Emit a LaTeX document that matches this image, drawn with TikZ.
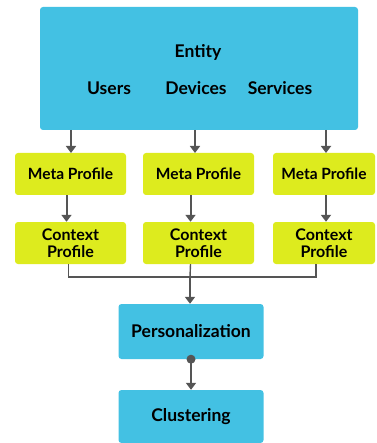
\documentclass[tikz,border=0pt]{standalone}
\usepackage{fontspec}
\setmainfont{Lato}
\usetikzlibrary{arrows.meta}
\definecolor{entityblue}{RGB}{67,193,227}
\definecolor{profilelime}{RGB}{221,235,30}
\definecolor{linegray}{RGB}{85,85,85}
\begin{document}
\begin{tikzpicture}[x=1pt,y=-1pt,
  bluebox/.style={fill=entityblue, rounded corners=3pt, inner sep=0pt},
  limebox/.style={fill=profilelime, rounded corners=3pt, inner sep=0pt, align=center,
    minimum height=42pt, font=\bfseries\fontsize{15.5}{17}\selectfont},
  ctxbox/.style={limebox, font=\bfseries\fontsize{16}{16.5}\selectfont},
  label/.style={font=\bfseries\fontsize{17.5}{19}\selectfont},
  flow/.style={draw=linegray, line width=2pt, -{Triangle[length=7pt,width=10pt]}},
  link/.style={draw=linegray, line width=1.4pt}]
\useasboundingbox (0,0) rectangle (376,443);
% entity block
\node[bluebox, minimum width=318pt, minimum height=123pt] (entity) at (199,68.5) {};
\node[label] (entitytxt) at (198,52) {Entity};
\node[label] (users) at (109,88) {Users};
\node[label] (devices) at (196,88) {Devices};
\node[label] (services) at (280,88) {Services};
% profiles
\node[limebox, minimum width=111pt] (meta1) at (70.5,174) {Meta Profile};
\node[limebox, minimum width=111pt] (meta2) at (198.5,174) {Meta Profile};
\node[limebox, minimum width=102pt] (meta3) at (324,174) {Meta Profile};
\node[ctxbox, minimum width=111pt] (ctx1) at (70.5,243) {Context\\Profile};
\node[ctxbox, minimum width=111pt] (ctx2) at (198.5,243) {Context\\Profile};
\node[ctxbox, minimum width=102pt] (ctx3) at (324,243) {Context\\Profile};
% lower blocks
\node[bluebox, label, minimum width=145pt, minimum height=55pt] (perso) at (191,331.5) {Personalization};
\node[bluebox, label, minimum width=145pt, minimum height=53pt] (clust) at (191,416.5) {Clustering};
% arrows
\draw[flow] (71,130) -- (71,153);
\draw[flow] (195,130) -- (195,153);
\draw[flow] (326,130) -- (326,153);
\draw[flow] ([xshift=-4pt]meta1.south) -- ([xshift=-4pt]ctx1.north);
\draw[flow] ([xshift=-8pt]meta2.south) -- ([xshift=-8pt]ctx2.north);
\draw[flow] ([xshift=2pt]meta3.south) -- ([xshift=2pt]ctx3.north);
\coordinate (join) at (190,277);
\draw[link] ([xshift=-2pt]ctx1.south) |- (join);
\draw[link] ([xshift=-8pt]ctx3.south) |- (join);
\draw[link] ([xshift=-8pt]ctx2.south) -- (join);
\draw[flow] (join) -- ([xshift=-1pt]perso.north);
\fill[linegray] (perso.south) circle (4.5pt);
\draw[flow] (perso.south) -- (clust.north);
\end{tikzpicture}
\end{document}
